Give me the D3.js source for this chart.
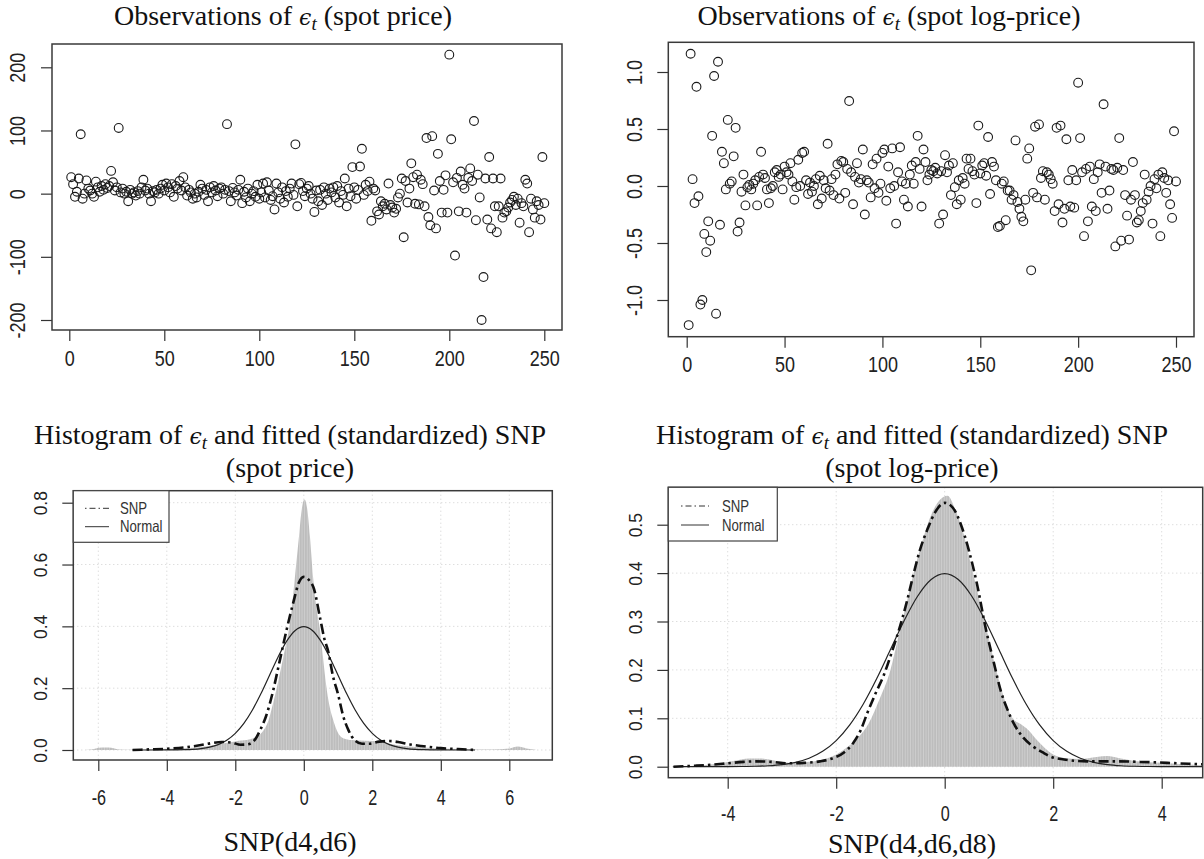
<!DOCTYPE html>
<html>
<head>
<meta charset="utf-8">
<script src="https://cdn.jsdelivr.net/npm/d3@7"></script>
<style>
body { margin: 0; background: #fff; }
svg { display: block; }
</style>
</head>
<body>
<div id="chart"></div>
<script>
// residuals of the spot price model, t = 1..250
var spotPrice = [26,15,-5,3,24,94,-8,0,21,8,5,0,-5,19,10,3,12,6,15,9,
  12,36,18,5,10,104,2,8,0,3,-12,6,0,2,-3,4,0,10,22,5,
  8,0,-12,4,2,6,0,8,14,5,16,10,2,15,-5,12,8,20,5,26,
  10,-3,6,2,-8,0,-6,3,14,8,-2,6,-12,10,2,12,5,-4,8,10,
  0,6,110,4,-12,9,2,-3,6,22,-15,3,-6,8,-12,0,4,-5,14,-8,
  2,16,-6,18,5,-10,-4,-25,16,2,-8,10,-14,4,-5,8,16,-2,78,-20,
  15,17,4,-4,8,12,0,-8,-29,5,-12,6,-18,10,0,-10,8,2,10,-6,
  12,-14,4,-2,24,-20,8,-4,42,10,-8,6,43,71,-2,14,4,19,-43,8,
  5,-28,-33,-12,-20,-16,-25,16,-18,-22,-30,-24,-6,0,24,-69,20,-14,8,48,
  26,-16,30,-17,22,15,-20,88,-37,-50,91,5,-55,63,20,-30,6,29,-30,220,
  86,18,-98,25,-28,35,14,8,-30,25,40,20,115,-42,30,-6,-200,-132,24,-41,
  58,-55,24,-20,-61,-20,24,-38,-30,-28,-22,-14,-10,-5,-18,-8,-46,-15,-20,22,
  16,-61,-8,-25,-38,-12,-18,-41,58,-15];

// residuals of the spot log-price model, t = 1..250
var spotLogPrice = [-1.22,1.16,0.06,-0.15,0.87,-0.09,-1.04,-1.0,-0.42,-0.58,-0.31,-0.48,0.44,0.965,-1.12,1.09,-0.34,0.30,0.20,-0.03,
  0.58,0.02,0.04,0.26,0.51,-0.40,-0.32,-0.05,0.10,-0.17,-0.01,0.01,-0.03,0.02,0.05,-0.17,0.08,0.30,0.10,0.07,
  -0.03,-0.15,-0.02,0.0,0.12,0.14,0.08,0.10,-0.03,0.17,0.12,0.10,0.20,0.04,-0.12,-0.01,0.23,0.0,0.29,0.30,
  0.05,-0.07,0.03,-0.05,0.0,0.06,-0.16,0.09,-0.11,0.05,-0.02,0.37,-0.04,0.06,-0.08,0.10,0.19,-0.11,0.22,0.21,
  -0.06,0.15,0.745,0.12,-0.16,0.08,0.20,0.03,0.06,0.32,-0.25,0.05,0.03,-0.10,0.19,-0.02,0.24,-0.06,0.02,0.29,
  0.32,-0.13,0.17,-0.02,0.33,0.0,-0.33,0.12,0.34,0.04,-0.12,0.02,-0.18,0.10,0.18,0.02,0.21,0.44,0.15,-0.18,
  0.32,0.21,0.05,0.10,0.14,0.13,0.16,0.11,-0.33,0.13,-0.25,0.27,0.12,0.18,-0.08,0.20,-0.01,-0.16,0.05,-0.12,
  0.07,0.02,0.24,0.15,0.24,0.13,0.10,-0.15,0.53,0.11,0.18,0.20,0.09,0.43,-0.07,0.21,0.17,0.05,-0.36,-0.35,
  0.02,0.04,-0.30,-0.04,-0.04,-0.12,-0.08,0.40,-0.14,-0.20,-0.27,-0.31,-0.12,0.24,0.33,-0.74,-0.06,0.52,-0.10,0.54,
  0.07,0.13,-0.12,0.12,0.10,0.06,0.02,-0.22,0.51,-0.16,0.53,-0.32,-0.20,0.41,0.05,-0.18,0.14,-0.19,0.05,0.906,
  0.42,0.12,-0.44,0.15,-0.31,0.17,-0.18,0.06,-0.22,0.12,0.19,-0.06,0.717,0.17,-0.20,-0.04,0.15,0.14,-0.53,0.16,
  0.42,-0.48,0.14,-0.08,-0.26,-0.47,-0.12,0.21,-0.08,-0.32,-0.30,-0.22,-0.15,0.10,-0.12,-0.05,0.0,-0.33,0.06,-0.02,
  0.10,-0.44,0.12,0.07,-0.06,0.05,-0.16,-0.28,0.48,0.04];

// histogram of standardized residuals, spot price  [x, density]
var histPrice = [[-6.6,0],[-6.2,0.002],[-5.9,0.008],[-5.7,0.008],[-5.4,0.002],[-5.0,0.001],[-4.5,0.002],[-4.0,0.004],
  [-3.5,0.006],[-3.0,0.01],[-2.6,0.016],[-2.2,0.024],[-1.9,0.03],[-1.6,0.034],[-1.4,0.042],[-1.2,0.06],[-1.05,0.09],
  [-0.9,0.15],[-0.75,0.22],[-0.6,0.3],[-0.45,0.38],[-0.35,0.46],[-0.25,0.57],[-0.15,0.68],[-0.07,0.77],[0.02,0.81],
  [0.1,0.78],[0.18,0.69],[0.27,0.56],[0.37,0.46],[0.47,0.39],[0.56,0.3],[0.63,0.23],[0.72,0.16],[0.85,0.1],[1.0,0.055],
  [1.15,0.038],[1.4,0.032],[1.8,0.03],[2.2,0.028],[2.5,0.02],[3.0,0.012],[3.5,0.008],[4.0,0.005],[4.5,0.003],[5.0,0.002],
  [5.5,0.002],[6.0,0.005],[6.25,0.011],[6.5,0.005],[6.8,0]];

// fitted SNP(d4,d6) density, spot price
var snpPrice = [[-5,0],[-4.5,0.002],[-4,0.004],[-3.5,0.008],[-3,0.016],[-2.7,0.022],[-2.4,0.026],[-2.1,0.024],
  [-1.85,0.017],[-1.65,0.018],[-1.45,0.03],[-1.25,0.07],[-1.1,0.11],[-0.9,0.19],[-0.7,0.29],[-0.5,0.39],[-0.3,0.48],
  [-0.15,0.54],[0,0.56],[0.15,0.55],[0.3,0.52],[0.47,0.43],[0.6,0.36],[0.71,0.32],[0.85,0.24],[1.0,0.18],[1.15,0.11],
  [1.3,0.065],[1.5,0.03],[1.7,0.02],[1.9,0.02],[2.2,0.027],[2.5,0.029],[2.8,0.025],[3.1,0.018],[3.5,0.012],[4,0.006],
  [4.5,0.003],[5,0]];

// histogram of standardized residuals, spot log-price
var histLog = [[-5.0,0],[-4.6,0.002],[-4.2,0.006],[-3.9,0.012],[-3.6,0.017],[-3.4,0.017],[-3.1,0.012],[-2.8,0.008],
  [-2.5,0.01],[-2.2,0.016],[-2.0,0.025],[-1.8,0.04],[-1.6,0.06],[-1.4,0.09],[-1.2,0.14],[-1.0,0.2],[-0.85,0.27],
  [-0.7,0.34],[-0.55,0.41],[-0.4,0.47],[-0.25,0.52],[-0.1,0.55],[0.05,0.56],[0.2,0.53],[0.35,0.48],[0.5,0.41],
  [0.65,0.34],[0.8,0.27],[0.95,0.2],[1.1,0.14],[1.25,0.1],[1.4,0.088],[1.55,0.075],[1.7,0.055],[1.85,0.038],[2.0,0.025],
  [2.2,0.018],[2.5,0.016],[2.8,0.02],[3.0,0.022],[3.2,0.018],[3.5,0.012],[4.0,0.008],[4.4,0.005],[4.8,0.003]];

// fitted SNP(d4,d6,d8) density, spot log-price
var snpLog = [[-5.0,0.0],[-4.6,0.002],[-4.3,0.004],[-4.0,0.007],[-3.7,0.01],[-3.5,0.011],[-3.2,0.01],[-2.9,0.007],
  [-2.6,0.008],[-2.3,0.011],[-2.05,0.018],[-1.85,0.03],[-1.68,0.05],[-1.55,0.075],[-1.43,0.11],[-1.28,0.15],
  [-1.12,0.19],[-0.98,0.235],[-0.85,0.28],[-0.7,0.34],[-0.57,0.40],[-0.45,0.45],[-0.32,0.49],[-0.18,0.525],[0,0.545],
  [0.15,0.535],[0.3,0.5],[0.45,0.445],[0.6,0.375],[0.75,0.289],[0.91,0.213],[1.03,0.158],[1.15,0.12],[1.27,0.09],
  [1.45,0.06],[1.64,0.041],[1.8,0.03],[1.95,0.021],[2.2,0.015],[2.63,0.011],[3.18,0.011],[3.6,0.01],[4.1,0.008],
  [4.5,0.006],[5.0,0.004]];

// standard normal reference curve as drawn
var normalCurve = [[-5,0],[-4.75,0],[-4.5,0],[-4.25,0],[-4,0.0001],[-3.75,0.0004],[-3.5,0.0009],[-3.25,0.002],
  [-3,0.0044],[-2.75,0.0091],[-2.5,0.0175],[-2.25,0.0317],[-2,0.054],[-1.75,0.0863],[-1.5,0.1295],[-1.25,0.1826],
  [-1,0.242],[-0.75,0.3011],[-0.5,0.3521],[-0.25,0.3867],[0,0.3989],[0.25,0.3867],[0.5,0.3521],[0.75,0.3011],
  [1,0.242],[1.25,0.1826],[1.5,0.1295],[1.75,0.0863],[2,0.054],[2.25,0.0317],[2.5,0.0175],[2.75,0.0091],[3,0.0044],
  [3.25,0.002],[3.5,0.0009],[3.75,0.0004],[4,0.0001],[4.25,0],[4.5,0],[4.75,0],[5,0]];

var obsTicks = [0, 50, 100, 150, 200, 250];
var priceTicks = [-200, -100, 0, 100, 200];
var logTicks = [-1.0, -0.5, 0.0, 0.5, 1.0];
var histPriceXTicks = [-6, -4, -2, 0, 2, 4, 6];
var histPriceYTicks = [0, 0.2, 0.4, 0.6, 0.8];
var histLogXTicks = [-4, -2, 0, 2, 4];
var histLogYTicks = [0, 0.1, 0.2, 0.3, 0.4, 0.5];
var legendLabels = ["SNP", "Normal"];

var W = 1204, H = 859;
var serif = "'Liberation Serif','Times New Roman',serif";
var sans = "'Liberation Sans',Arial,sans-serif";

var svg = d3.select("#chart").append("svg")
    .attr("width", W)
    .attr("height", H);

var defs = svg.append("defs");
var pat = defs.append("pattern")
    .attr("id", "bars")
    .attr("patternUnits", "userSpaceOnUse")
    .attr("width", 2.6).attr("height", 10);
pat.append("rect").attr("width", 2.6).attr("height", 10).attr("fill", "#bdbdbd");
pat.append("rect").attr("width", 0.7).attr("height", 10).attr("fill", "#d4d4d4");

// R prints a plain hyphen for negative numbers
function rInt(d) { return String(d); }
function rDec(d) { return d.toFixed(1); }

function title(cx, y, pre, post) {
  var t = svg.append("text")
      .attr("x", cx).attr("y", y)
      .attr("text-anchor", "middle")
      .style("font-family", serif)
      .style("font-size", "28px")
      .attr("fill", "#111");
  t.append("tspan").text(pre);
  if (post !== undefined) {
    t.append("tspan").style("font-family", "'DejaVu Serif',serif").style("font-style", "italic")
      .style("font-size", "22px").text("\u03F5");
    t.append("tspan").attr("dy", 5).style("font-style", "italic").style("font-size", "19px").text("t");
    t.append("tspan").attr("dy", -5).text(post);
  }
}

// generic R-style panel: frame, ticks and rotated y labels
function panel(p) {
  var g = svg.append("g");
  var x = d3.scaleLinear().domain(p.xDom).range(p.xRange);
  var y = d3.scaleLinear().domain(p.yDom).range(p.yRange);
  var f = p.frame;

  var clipId = "clip" + p.id;
  defs.append("clipPath").attr("id", clipId)
    .append("rect").attr("x", f[0]).attr("y", f[1]).attr("width", f[2] - f[0]).attr("height", f[3] - f[1]);

  var xAxis = g.append("g")
      .attr("transform", "translate(0," + f[3] + ")")
      .call(d3.axisBottom(x).tickValues(p.xTicks).tickSize(11).tickSizeOuter(0).tickFormat(rInt));
  var yAxis = g.append("g")
      .attr("transform", "translate(" + f[0] + ",0)")
      .call(d3.axisLeft(y).tickValues(p.yTicks).tickSize(11).tickSizeOuter(0).tickFormat(p.yFmt));
  [xAxis, yAxis].forEach(function(a) {
    a.select(".domain").remove();
    a.selectAll(".tick line").attr("stroke", "#333").attr("stroke-width", 1.2);
    a.selectAll(".tick text")
      .attr("fill", "#222")
      .style("font-family", sans)
      .style("font-size", p.fontSize + "px");
  });
  xAxis.selectAll(".tick text")
    .attr("y", 0).attr("dy", 0)
    .attr("transform", "translate(0," + (p.xLabelY - f[3]) + ") scale(" + p.xScale + ")");
  yAxis.selectAll(".tick text")
    .attr("text-anchor", "middle")
    .attr("dy", 0)
    .attr("x", 0)
    .attr("transform", "translate(" + (p.yLabelX - f[0]) + ",0) rotate(-90) scale(" + p.yScale + ")");

  p.g = g; p.x = x; p.y = y; p.clip = "url(#" + clipId + ")";
  return p;
}

function frame(p) {
  var f = p.frame;
  p.g.append("rect")
    .attr("x", f[0]).attr("y", f[1])
    .attr("width", f[2] - f[0]).attr("height", f[3] - f[1])
    .attr("fill", "none").attr("stroke", "#3a3a3a").attr("stroke-width", 1.5);
}

// ---------- scatter panels ----------
function scatter(p, values) {
  p.g.append("g").selectAll("circle")
    .data(values)
    .enter().append("circle")
      .attr("cx", function(d, i) { return p.x(i + 1); })
      .attr("cy", function(d) { return p.y(d); })
      .attr("r", 4.4)
      .attr("fill", "none")
      .attr("stroke", "#1a1a1a")
      .attr("stroke-width", 1.1);
  frame(p);
}

var p1 = panel({id: 1, frame: [52, 44, 562, 330], xDom: [0, 250], xRange: [69.3, 544.3],
  yDom: [-200, 200], yRange: [320, 67.3], xTicks: obsTicks, yTicks: priceTicks,
  yFmt: rInt, fontSize: 20, xLabelY: 366, xScale: "0.9,1.08", yLabelX: 25, yScale: "0.9,1.1"});
scatter(p1, spotPrice);

var p2 = panel({id: 2, frame: [668.3, 42.3, 1194, 336.7], xDom: [0, 250], xRange: [686.7, 1176],
  yDom: [-1, 1], yRange: [300, 72], xTicks: obsTicks, yTicks: logTicks,
  yFmt: rDec, fontSize: 20, xLabelY: 372, xScale: "0.9,1.08", yLabelX: 642, yScale: "0.9,1.1"});
scatter(p2, spotLogPrice);

// ---------- density panels ----------
function density(p, hist, snp, legend) {
  var g = p.g, x = p.x, y = p.y, f = p.frame;
  var grid = g.append("g").attr("stroke", "#cfcfcf").attr("stroke-width", 1).attr("stroke-dasharray", "1,3");
  p.xTicks.forEach(function(t) {
    grid.append("line").attr("x1", x(t)).attr("x2", x(t)).attr("y1", f[1]).attr("y2", f[3]);
  });
  p.yTicks.forEach(function(t) {
    grid.append("line").attr("x1", f[0]).attr("x2", f[2]).attr("y1", y(t)).attr("y2", y(t));
  });

  var body = g.append("g").attr("clip-path", p.clip);
  body.append("path")
    .datum(hist)
    .attr("fill", "url(#bars)")
    .attr("d", d3.area().curve(d3.curveMonotoneX)
      .x(function(d) { return x(d[0]); })
      .y0(y(0))
      .y1(function(d) { return y(d[1]); }));

  var line = d3.line().curve(d3.curveMonotoneX)
      .x(function(d) { return x(d[0]); })
      .y(function(d) { return y(d[1]); });
  body.append("path").datum(normalCurve)
    .attr("fill", "none").attr("stroke", "#222").attr("stroke-width", 1.2).attr("d", line);
  body.append("path").datum(snp)
    .attr("fill", "none").attr("stroke", "#111").attr("stroke-width", 2.6)
    .attr("stroke-dasharray", "10,4,2.5,4").attr("d", line);

  frame(p);

  var L = legend;
  var lg = g.append("g");
  lg.append("rect").attr("x", L.x0).attr("y", L.y0).attr("width", L.x1 - L.x0).attr("height", L.y1 - L.y0)
    .attr("fill", "#fff").attr("stroke", "#444").attr("stroke-width", 1.2);
  legendLabels.forEach(function(lab, i) {
    var yy = L.rows[i];
    lg.append("line").attr("x1", L.lx0).attr("x2", L.lx1).attr("y1", yy).attr("y2", yy)
      .attr("stroke", "#333").attr("stroke-width", 1)
      .attr("stroke-dasharray", i === 0 ? "1.5,3,6,3" : null);
    lg.append("text").attr("x", L.tx).attr("y", yy).attr("dy", "0.35em")
      .attr("transform", "translate(" + L.tx + "," + yy + ") scale(0.88,1.1) translate(" + (-L.tx) + "," + (-yy) + ")")
      .style("font-family", sans).style("font-size", "15px").attr("fill", "#333").text(lab);
  });
}

var p3 = panel({id: 3, frame: [73.3, 490.7, 552.3, 760], xDom: [-6, 6], xRange: [98.3, 509.3],
  yDom: [0, 0.8], yRange: [750, 502.7], xTicks: histPriceXTicks, yTicks: histPriceYTicks,
  yFmt: rDec, fontSize: 19, xLabelY: 805, xScale: "0.85,1.15", yLabelX: 47, yScale: "0.92,1"});
density(p3, histPrice, snpPrice, {x0: 73.3, x1: 169, y0: 490.7, y1: 542.3, lx0: 85, lx1: 109, tx: 120, rows: [508.3, 526.7]});

var p4 = panel({id: 4, frame: [668.3, 487.3, 1202.7, 777.7], xDom: [-4, 4], xRange: [727.7, 1161.7],
  yDom: [0, 0.5], yRange: [766.7, 524.7], xTicks: histLogXTicks, yTicks: histLogYTicks,
  yFmt: rDec, fontSize: 19, xLabelY: 821, xScale: "0.85,1.15", yLabelX: 642, yScale: "0.92,1"});
density(p4, histLog, snpLog, {x0: 668.3, x1: 777.3, y0: 487.3, y1: 541, lx0: 681, lx1: 709, tx: 722, rows: [506, 525]});

// ---------- titles ----------
title(283, 25, "Observations of ", " (spot price)");
title(889, 25, "Observations of ", " (spot log-price)");
title(290, 444, "Histogram of ", " and fitted (standardized) SNP");
title(290, 477, "(spot price)");
title(912, 444, "Histogram of ", " and fitted (standardized) SNP");
title(912, 477, "(spot log-price)");
title(290, 851, "SNP(d4,d6)");
title(912, 853, "SNP(d4,d6,d8)");
</script>
</body>
</html>
